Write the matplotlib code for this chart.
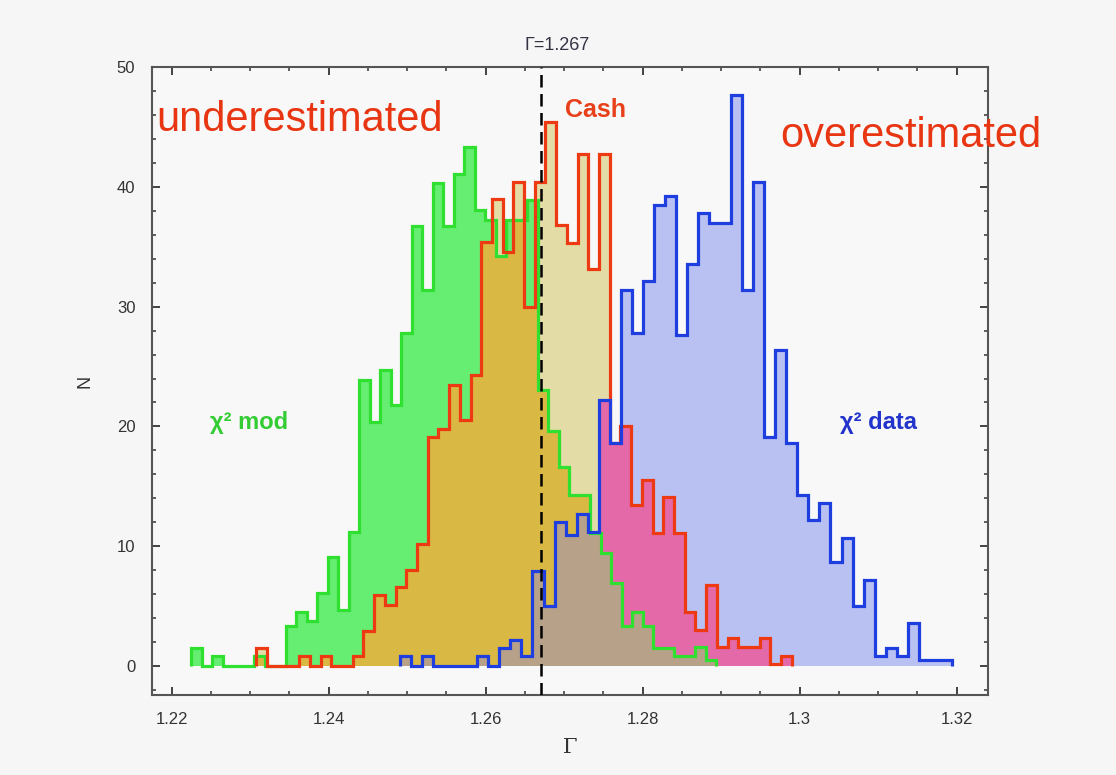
import matplotlib
matplotlib.use('Agg')
import matplotlib.pyplot as plt
import numpy as np
from matplotlib.ticker import MultipleLocator

# histogram data: 50 bins spanning each sample's min..max
green_range = (1.2225, 1.2894)
red_range = (1.2308, 1.2990)
blue_range = (1.2491, 1.3194)

green_n = [1.5, 0, 0.8, 0, 0, 0, 0.8, 0, 0, 3.3,
           4.5, 3.8, 6.1, 9.1, 4.7, 11.2, 23.9, 20.4, 24.7, 21.8,
           27.8, 36.7, 31.4, 40.3, 36.7, 41.1, 43.3, 38.1, 37.2, 34.2,
           37.2, 37.2, 38.9, 23.0, 19.6, 16.6, 14.3, 14.3, 11.1, 9.4,
           6.9, 3.3, 4.5, 3.3, 1.5, 1.5, 0.8, 0.8, 1.6, 0.5]
red_n = [1.5, 0, 0, 0, 0.8, 0, 0.8, 0, 0, 0.8,
         2.9, 5.9, 5.1, 6.6, 8.0, 10.2, 19.1, 19.8, 23.5, 20.5,
         24.3, 35.4, 39.0, 34.6, 40.4, 30.0, 40.4, 45.4, 36.8, 35.3,
         42.7, 33.1, 42.7, 18.6, 20.0, 13.4, 15.5, 11.1, 14.1, 11.1,
         4.5, 3.0, 6.8, 1.6, 2.3, 1.6, 1.6, 2.3, 0.2, 0.8]
blue_n = [0.8, 0, 0.8, 0, 0, 0, 0, 0.8, 0, 1.5,
          2.2, 0.8, 7.9, 5.0, 12.0, 10.9, 12.7, 11.2, 22.2, 18.6,
          31.4, 27.8, 32.1, 38.5, 39.2, 27.6, 33.6, 37.8, 37.0, 37.0,
          47.7, 31.4, 40.4, 19.1, 26.4, 18.6, 14.3, 12.2, 13.6, 8.7,
          10.7, 5.0, 7.2, 0.8, 1.5, 0.8, 3.6, 0.5, 0.5, 0.5]

gamma_true = 1.267

series = [
    (np.array(green_n), np.linspace(*green_range, 51)),
    (np.array(red_n), np.linspace(*red_range, 51)),
    (np.array(blue_n), np.linspace(*blue_range, 51)),
]
line_cols = ['#2fe030', '#ee3a12', '#1e3ee0']

# fill colour for each overlap combination (green, red, blue)
mix = {
    (1, 0, 0): '#66ee72',
    (0, 1, 0): '#e3dca6',
    (0, 0, 1): '#b9c1f2',
    (1, 1, 0): '#d9b843',
    (0, 1, 1): '#e469a8',
    (1, 0, 1): '#9fd3b0',
    (1, 1, 1): '#b8a189',
}

def level(vals, edges, x):
    i = np.searchsorted(edges, x, side='right') - 1
    ok = (i >= 0) & (i < len(vals))
    return np.where(ok, vals[np.clip(i, 0, len(vals) - 1)], 0.0)

fig = plt.figure(figsize=(11.16, 7.75), dpi=100, facecolor='#f6f6f6')
ax = fig.add_axes([0.1362, 0.1032, 0.7491, 0.8103])
ax.set_facecolor('#f8f8f8')

cuts = np.unique(np.concatenate([e for _, e in series]))
mids = (cuts[:-1] + cuts[1:]) / 2
widths = np.diff(cuts)
H = np.vstack([level(v, e, mids) for v, e in series])

bars = {k: ([], [], [], []) for k in mix}
for j in range(len(mids)):
    h = H[:, j]
    lv = np.unique(np.concatenate([[0.0], h]))
    for lo, hi in zip(lv[:-1], lv[1:]):
        key = tuple(int(x >= hi) for x in h)
        if key in bars:
            bars[key][0].append(cuts[j])
            bars[key][1].append(widths[j])
            bars[key][2].append(lo)
            bars[key][3].append(hi - lo)
for key, (x, w, b, hgt) in bars.items():
    if x:
        ax.bar(x, hgt, width=w, bottom=b, align='edge', color=mix[key],
               linewidth=0, zorder=1)

for (vals, edges), c in zip(series, line_cols):
    ax.stairs(vals, edges, color=c, lw=2.3, zorder=3)

ax.axvline(gamma_true, color='black', lw=1.8, ls=(0, (5, 2.6)), zorder=5)

ax.set_xlim(1.2175, 1.3240)
ax.set_ylim(-2.42, 50)
ax.xaxis.set_major_locator(MultipleLocator(0.02))
ax.xaxis.set_minor_locator(MultipleLocator(0.005))
ax.yaxis.set_major_locator(MultipleLocator(10))
ax.yaxis.set_minor_locator(MultipleLocator(2))
ax.set_xticklabels([]) if False else None
ax.xaxis.set_major_formatter(plt.FuncFormatter(lambda v, p: ('%.2f' % v).rstrip('0')))
ax.tick_params(which='both', direction='in', top=True, right=True, colors='#333333')
ax.tick_params(which='major', length=6, width=1.3, labelsize=12, pad=12)
ax.tick_params(which='minor', length=3, width=1.1)
for lab in ax.get_xticklabels() + ax.get_yticklabels():
    lab.set_family('Liberation Sans')
for s in ax.spines.values():
    s.set_color('#555555')
    s.set_linewidth(1.5)

ax.text(-0.08, 0.5, 'N', transform=ax.transAxes, rotation=90, ha='center',
        va='center', fontsize=13, color='#333333', family='Liberation Sans')
ax.text(0.5, -0.084, 'Γ', transform=ax.transAxes, ha='center', va='center',
        fontsize=15, color='#333333', family='DejaVu Serif')
ax.text(1.2649, 51.8, 'Γ=1.267', ha='left', va='center', fontsize=13,
        color='#333344', family='Liberation Sans', clip_on=False)

ax.text(1.2181, 44.7, 'underestimated', color='#e83512', fontsize=30,
        family='Liberation Sans', ha='left', va='baseline', zorder=6)
ax.text(1.2975, 43.3, 'overestimated', color='#e83512', fontsize=30,
        family='Liberation Sans', ha='left', va='baseline', zorder=6, clip_on=False)
ax.text(1.2701, 45.8, 'Cash', color='#e8401a', fontsize=18, fontweight='bold',
        family='Liberation Sans', ha='left', va='baseline', zorder=6)
ax.text(1.2249, 19.8, 'χ² mod', color='#33cc33', fontsize=17, fontweight='bold',
        family='Liberation Sans', ha='left', va='baseline', zorder=6)
ax.text(1.3051, 19.8, 'χ² data', color='#2233cc', fontsize=17, fontweight='bold',
        family='Liberation Sans', ha='left', va='baseline', zorder=6)

fig.savefig('out.png', dpi=100, facecolor=fig.get_facecolor())
